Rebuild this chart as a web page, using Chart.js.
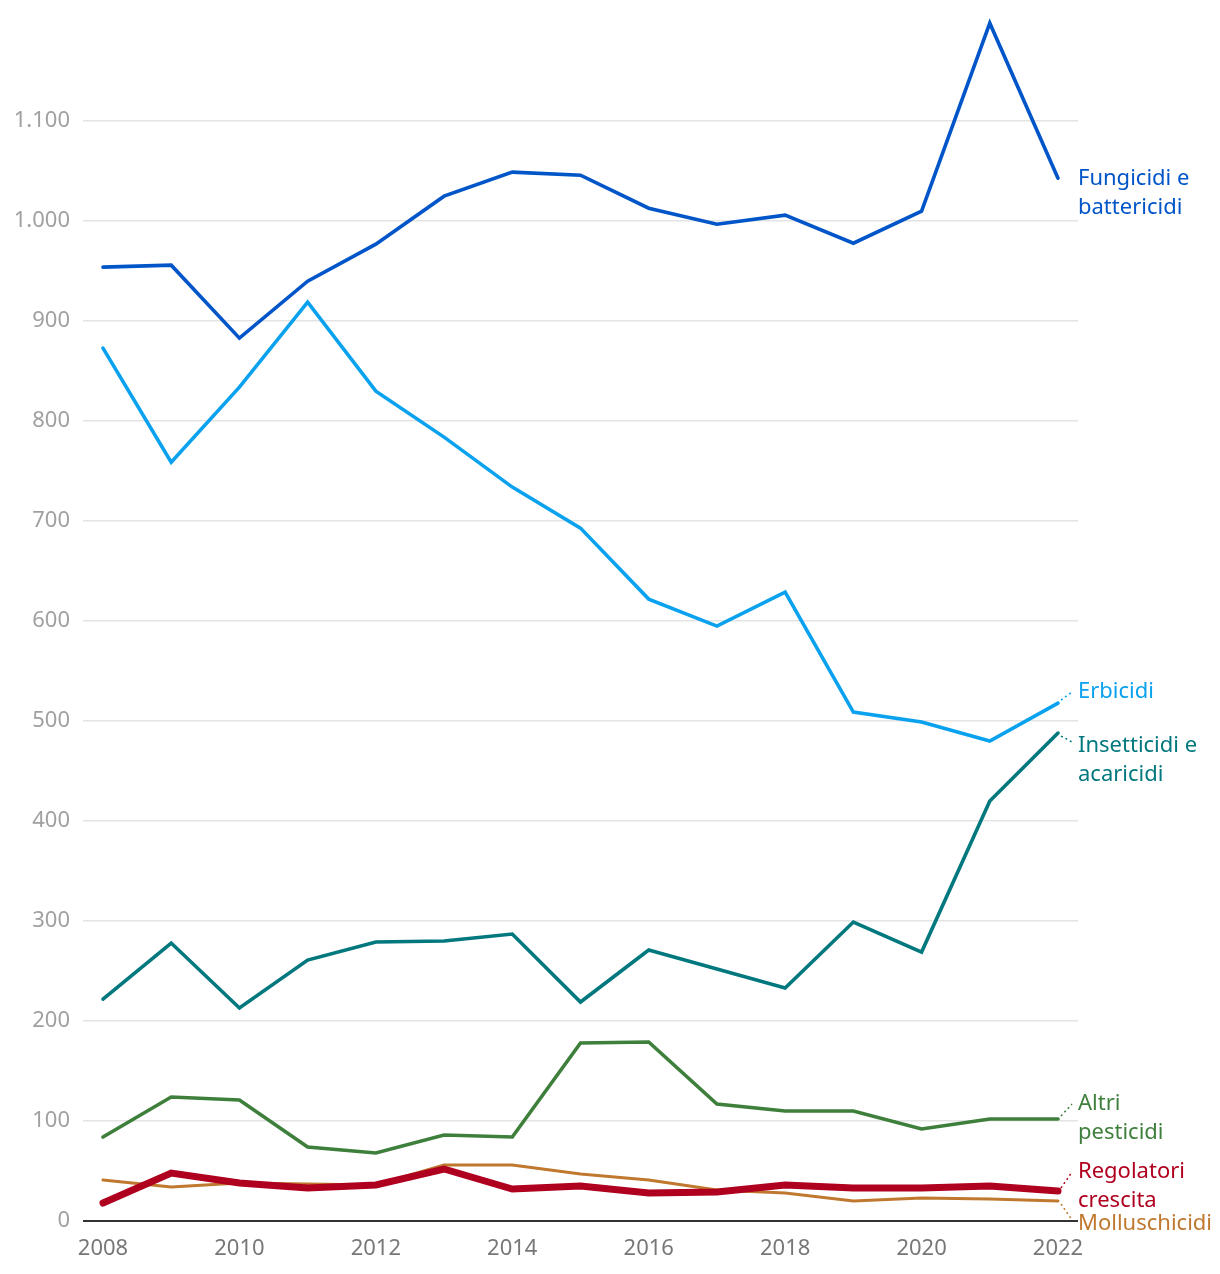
<!DOCTYPE html>
<html>
<head>
<meta charset="utf-8">
<script src="https://cdn.jsdelivr.net/npm/chart.js@4"></script>
<style>
html,body{margin:0;padding:0;background:#fff;}
#wrap{width:1220px;height:1274px;position:relative;}
</style>
</head>
<body>
<div id="wrap"><canvas id="c" width="1220" height="1274"></canvas></div>
<script>
const years = [2008,2009,2010,2011,2012,2013,2014,2015,2016,2017,2018,2019,2020,2021,2022];
const xTicks = [2008,2010,2012,2014,2016,2018,2020,2022];
const yTicks = [0,100,200,300,400,500,600,700,800,900,1000,1100];

const fungicidi     = [954,956,883,940,977,1025,1049,1046,1013,997,1006,978,1010,1198,1043];
const erbicidi      = [873,759,834,919,830,784,734,693,622,595,629,509,499,480,518];
const insetticidi   = [222,278,213,261,279,280,287,219,271,252,233,299,269,420,488];
const altri         = [84,124,121,74,68,86,84,178,179,117,110,110,92,102,102];
const regolatori    = [18,48,38,33,36,52,32,35,28,29,36,33,33,35,30];
const molluschicidi = [41,34,38,37,36,56,56,47,41,31,28,20,23,22,20];

const seriesNames = {
  fungicidi: ["Fungicidi e","battericidi"],
  erbicidi: ["Erbicidi"],
  insetticidi: ["Insetticidi e","acaricidi"],
  altri: ["Altri","pesticidi"],
  regolatori: ["Regolatori","crescita"],
  molluschicidi: ["Molluschicidi"]
};

const FONT = "'Noto Sans', 'Open Sans', sans-serif";

function pts(arr){ return arr.map((v,i)=>({x:years[i], y:v})); }

const labelLayout = [
  {key:'fungicidi', color:'#0055c8', y:179, dotted:false},
  {key:'erbicidi', color:'#0aa2ef', y:692, dotted:true},
  {key:'insetticidi', color:'#00787e', y:746, dotted:true},
  {key:'altri', color:'#3e7f3c', y:1104, dotted:true},
  {key:'regolatori', color:'#b0001f', y:1172, dotted:true},
  {key:'molluschicidi', color:'#c0782f', y:1224, dotted:true}
];

const endLabels = {
  id:'endLabels',
  afterDatasetsDraw(chart){
    const ctx = chart.ctx;
    const xs = chart.scales.x, ys = chart.scales.y;
    ctx.save();
    labelLayout.forEach(l=>{
      const ds = chart.data.datasets.find(d=>d.key===l.key);
      const last = ds.data[ds.data.length-1];
      const px = xs.getPixelForValue(last.x), py = ys.getPixelForValue(last.y);
      if(l.dotted){
        const up = l.y < py;
        ctx.beginPath();
        ctx.setLineDash([2,3]);
        ctx.lineWidth = 1.5;
        ctx.strokeStyle = l.color;
        ctx.moveTo(px+3, py + (up ? -3 : 3));
        ctx.lineTo(px+14, l.y + (up ? 0 : -4));
        ctx.stroke();
        ctx.setLineDash([]);
      }
      ctx.fillStyle = l.color;
      ctx.font = "22px " + FONT;
      ctx.textAlign = 'left';
      ctx.textBaseline = 'middle';
      seriesNames[l.key].forEach((t,i)=>{
        ctx.fillText(t, 1078, l.y + i*29);
      });
    });
    ctx.restore();
  }
};

new Chart(document.getElementById('c'), {
  type:'line',
  data:{
    datasets:[
      {key:'regolatori', data:pts(regolatori), borderColor:'#b0001f', borderWidth:7, order:0, clip:false},
      {key:'molluschicidi', data:pts(molluschicidi), borderColor:'#c0782f', borderWidth:3, order:5, clip:false},
      {key:'altri', data:pts(altri), borderColor:'#3e7f3c', borderWidth:3.6, order:4, clip:false},
      {key:'insetticidi', data:pts(insetticidi), borderColor:'#00787e', borderWidth:3.6, order:3, clip:false},
      {key:'fungicidi', data:pts(fungicidi), borderColor:'#0055c8', borderWidth:3.6, order:1, clip:false},
      {key:'erbicidi', data:pts(erbicidi), borderColor:'#0aa2ef', borderWidth:3.6, order:2, clip:false}
    ]
  },
  options:{
    responsive:false,
    animation:false,
    layout:{padding:{left:0,right:142,top:0,bottom:0}},
    elements:{point:{radius:0}, line:{tension:0, borderCapStyle:'round', borderJoinStyle:'miter'}},
    plugins:{legend:{display:false}, tooltip:{enabled:false}},
    scales:{
      x:{
        type:'linear',
        min:2007.707, max:2022.293,
        afterBuildTicks(s){ s.ticks = xTicks.map(v=>({value:v})); },
        afterFit(s){ s.height = 53; },
        grid:{display:false, drawTicks:false},
        border:{display:false},
        ticks:{color:'#777', font:{family:FONT, size:22}, padding:15, maxRotation:0, autoSkip:false,
          callback:(v)=>String(v)}
      },
      y:{
        type:'linear',
        min:0, max:1195,
        afterBuildTicks(s){ s.ticks = yTicks.map(v=>({value:v})); },
        afterFit(s){ s.width = 83; },
        grid:{drawTicks:false, color:(c)=> c.tick && c.tick.value===0 ? '#333' : '#e4e4e4',
              lineWidth:(c)=> c.tick && c.tick.value===0 ? 2 : 1.5},
        border:{display:false},
        ticks:{color:'#a0a0a0', font:{family:FONT, size:22}, padding:13,
          callback:(v)=> v>=1000 ? String(v).replace(/(\d)(\d{3})$/,'$1.$2') : String(v)}
      }
    }
  },
  plugins:[endLabels]
});
</script>
</body>
</html>
